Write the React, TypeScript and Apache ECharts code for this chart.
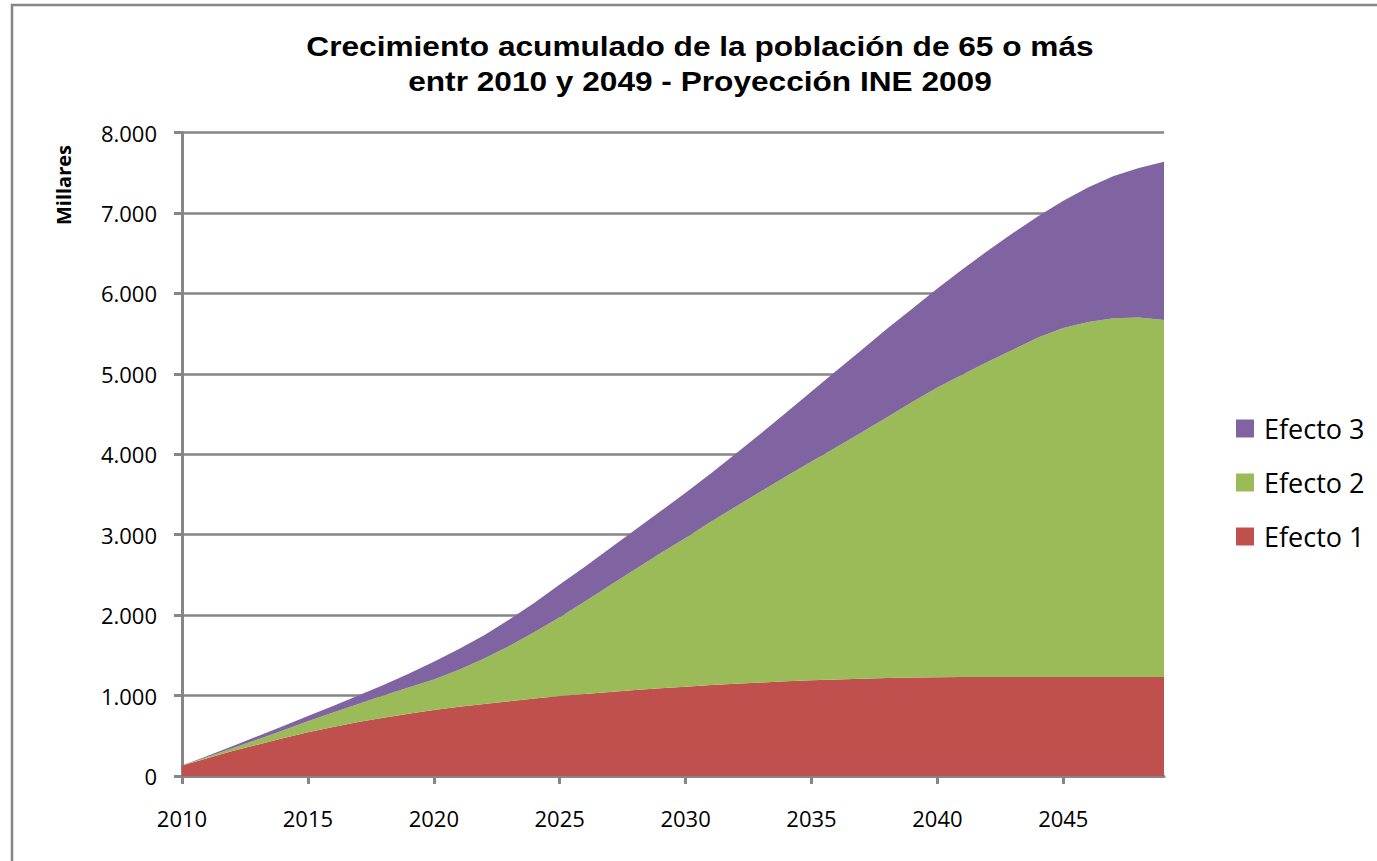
import React, { useEffect, useRef } from "react";
import * as echarts from "echarts";

const years: string[] = [
  "2010","2011","2012","2013","2014","2015","2016","2017","2018","2019",
  "2020","2021","2022","2023","2024","2025","2026","2027","2028","2029",
  "2030","2031","2032","2033","2034","2035","2036","2037","2038","2039",
  "2040","2041","2042","2043","2044","2045","2046","2047","2048","2049",
];

const efecto1: number[] = [
  130, 220, 310, 390, 470, 545, 610, 670, 725, 775,
  820, 860, 895, 930, 965, 995, 1020, 1045, 1070, 1090,
  1110, 1130, 1148, 1163, 1177, 1190, 1200, 1210, 1218, 1224,
  1228, 1230, 1232, 1232, 1232, 1231, 1230, 1230, 1230, 1230,
];

const efecto2: number[] = [
  0, 15, 35, 65, 95, 135, 180, 225, 275, 325,
  380, 460, 565, 685, 825, 980, 1150, 1325, 1500, 1680,
  1850, 2030, 2202, 2377, 2548, 2720, 2890, 3065, 3242, 3426,
  3602, 3760, 3918, 4068, 4218, 4339, 4415, 4460, 4470, 4440,
];

const efecto3: number[] = [
  0, 15, 25, 40, 55, 65, 80, 105, 130, 170,
  220, 260, 290, 330, 365, 405, 430, 460, 490, 520,
  560, 600, 660, 720, 795, 870, 950, 1025, 1100, 1160,
  1230, 1310, 1380, 1450, 1510, 1580, 1675, 1770, 1860, 1965,
];

const seriesNames = ["Efecto 1", "Efecto 2", "Efecto 3"];
const seriesColors = ["#C0504D", "#9BBB59", "#8064A2"];
const titleLines = [
  "Crecimiento acumulado de la población de 65 o más",
  "entr 2010 y 2049 - Proyección INE 2009",
];
const yAxisTitle = "Millares";

const GRAY = "#868686";

export default function App() {
  const ref = useRef<HTMLDivElement>(null);

  useEffect(() => {
    if (!ref.current) return;
    const chart = echarts.init(ref.current, null, { renderer: "svg" });
    const data = [efecto1, efecto2, efecto3];
    chart.setOption({
      animation: false,
      backgroundColor: "#ffffff",
      grid: { left: 182, right: 213, top: 132.5, bottom: 85, containLabel: false },
      graphic: [
        {
          type: "rect",
          shape: { x: 12, y: 5, width: 1420, height: 900 },
          style: { fill: "none", stroke: GRAY, lineWidth: 2.5 },
          silent: true,
        },
        {
          type: "text",
          x: 700,
          y: 46,
          scaleX: 1.13,
          style: {
            text: titleLines[0],
            font: "bold 28px 'Liberation Sans', Arial, sans-serif",
            fill: "#000",
            align: "center",
            verticalAlign: "middle",
          },
        },
        {
          type: "text",
          x: 700,
          y: 81,
          scaleX: 1.13,
          style: {
            text: titleLines[1],
            font: "bold 28px 'Liberation Sans', Arial, sans-serif",
            fill: "#000",
            align: "center",
            verticalAlign: "middle",
          },
        },
        {
          type: "text",
          x: 63,
          y: 185,
          rotation: Math.PI / 2,
          style: {
            text: yAxisTitle,
            font: "bold 20px 'Open Sans', sans-serif",
            fill: "#000",
            align: "center",
            verticalAlign: "middle",
          },
        },
      ],
      legend: {
        orient: "vertical",
        left: 1231,
        top: 410,
        itemWidth: 18,
        itemHeight: 18,
        itemGap: 27,
        icon: "rect",
        data: ["Efecto 3", "Efecto 2", "Efecto 1"],
        textStyle: {
          fontFamily: "'Open Sans', sans-serif",
          fontSize: 27,
          color: "#000",
          padding: [0, 0, 0, 5],
        },
      },
      xAxis: {
        type: "category",
        boundaryGap: false,
        data: years,
        axisLine: { show: true, lineStyle: { color: GRAY, width: 3 } },
        axisTick: { show: true, interval: 4, length: 8, lineStyle: { color: GRAY, width: 3 } },
        axisLabel: {
          interval: 4,
          margin: 31,
          color: "#000",
          fontFamily: "'Open Sans', sans-serif",
          fontSize: 22,
        },
        splitLine: { show: false },
      },
      yAxis: {
        type: "value",
        min: 0,
        max: 8000,
        interval: 1000,
        axisLine: { show: true, lineStyle: { color: GRAY, width: 3 } },
        axisTick: { show: true, length: 8, lineStyle: { color: GRAY, width: 3 } },
        axisLabel: {
          margin: 25,
          color: "#000",
          fontFamily: "'Open Sans', sans-serif",
          fontSize: 22,
          formatter: (v: number) => (v === 0 ? "0" : `${v / 1000}.000`),
        },
        splitLine: { show: true, lineStyle: { color: GRAY, width: 2.5 } },
      },
      series: seriesNames.map((name, i) => ({
        name,
        type: "line",
        stack: "total",
        data: data[i],
        symbol: "none",
        color: seriesColors[i],
        lineStyle: { width: 0, color: seriesColors[i] },
        areaStyle: { color: seriesColors[i], opacity: 1 },
        emphasis: { disabled: true },
        z: 3,
      })),
    });
    return () => chart.dispose();
  }, []);

  return (
    <div
      ref={ref}
      style={{ position: "fixed", left: 0, top: 0, width: 1377, height: 861 }}
    />
  );
}
